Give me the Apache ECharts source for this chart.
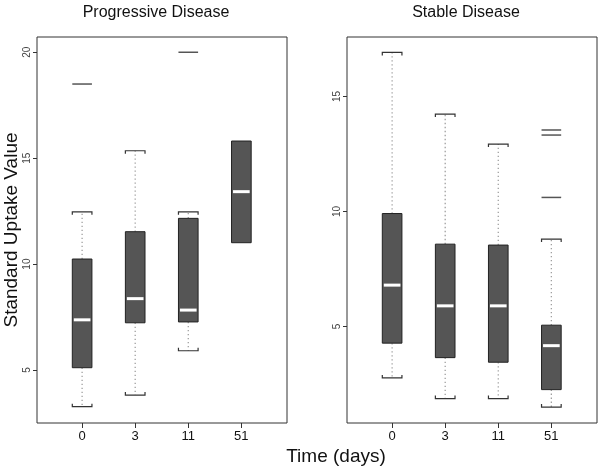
<!DOCTYPE html>
<html><head><meta charset="utf-8">
<script src="https://cdn.jsdelivr.net/npm/echarts@6/dist/echarts.min.js"></script>
<style>html,body{margin:0;padding:0;background:#fff}#c{width:600px;height:470px}</style>
</head><body><div id="c"></div>
<script>
const categories = ['0', '3', '11', '51'];
const yTicksProg = [5, 10, 15, 20];
const yTicksStable = [5, 10, 15];

const progLow  = [3.27, 3.82, 5.91, null];
const progQ1   = [5.11, 7.23, 7.27, 11.01];
const progMed  = [7.37, 8.37, 7.83, 13.42];
const progQ3   = [10.24, 11.53, 12.16, 15.81];
const progHigh = [12.47, 15.35, 12.47, null];
const progOutliers = [[0, 18.5], [2, 20.0]];

const stabLow  = [2.77, 1.87, 1.87, 1.50];
const stabQ1   = [4.28, 3.65, 3.45, 2.26];
const stabMed  = [6.80, 5.90, 5.90, 4.17];
const stabQ3   = [9.91, 8.58, 8.54, 5.06];
const stabHigh = [16.91, 14.23, 12.93, 8.80];
const stabOutliers = [[3, 13.54], [3, 13.32], [3, 10.61]];

const BOX_W = 0.37;
const FONT = '"Liberation Sans", Arial, sans-serif';

function boxRenderer(low, q1, med, q3, high) {
  return function (params, api) {
    const i = params.dataIndex;
    const x = i + 1;
    const half = api.size([BOX_W, 0])[0] / 2;
    const cx = api.coord([x, 0])[0];
    const yq1 = api.coord([x, q1[i]])[1];
    const yq3 = api.coord([x, q3[i]])[1];
    const ym = api.coord([x, med[i]])[1];
    const children = [];
    const dash = { stroke: '#a0a0a0', lineWidth: 1.3, lineDash: [1.3, 2.7], fill: null };
    const cap = { stroke: '#333', lineWidth: 1.2, fill: null };
    if (high[i] != null) {
      const yh = api.coord([x, high[i]])[1];
      children.push({ type: 'line', shape: { x1: cx, y1: yq3, x2: cx, y2: yh }, style: dash });
      children.push({ type: 'polyline', shape: { points: [[cx - half, yh + 3], [cx - half, yh], [cx + half, yh], [cx + half, yh + 3]] }, style: cap });
    }
    if (low[i] != null) {
      const yl = api.coord([x, low[i]])[1];
      children.push({ type: 'line', shape: { x1: cx, y1: yq1, x2: cx, y2: yl }, style: dash });
      children.push({ type: 'polyline', shape: { points: [[cx - half, yl - 3], [cx - half, yl], [cx + half, yl], [cx + half, yl - 3]] }, style: cap });
    }
    children.push({ type: 'rect', shape: { x: cx - half, y: yq3, width: 2 * half, height: yq1 - yq3 }, style: { fill: '#555555', stroke: '#222', lineWidth: 1 } });
    children.push({ type: 'line', shape: { x1: cx - half + 1.5, y1: ym, x2: cx + half - 1.5, y2: ym }, style: { stroke: '#ffffff', lineWidth: 3 } });
    return { type: 'group', children: children };
  };
}

function outlierRenderer(params, api) {
  const x = api.value(0) + 1;
  const half = api.size([BOX_W, 0])[0] / 2;
  const p = api.coord([x, api.value(1)]);
  return { type: 'line', shape: { x1: p[0] - half, y1: p[1], x2: p[0] + half, y2: p[1] }, style: { stroke: '#555', lineWidth: 1.5 } };
}

function xAxis(gi) {
  return {
    type: 'value', gridIndex: gi, min: 0.15, max: 4.86,
    axisLine: { show: false }, splitLine: { show: false },
    axisTick: { show: true, length: 5, customValues: [1, 2, 3, 4], lineStyle: { color: '#333' } },
    axisLabel: { customValues: [1, 2, 3, 4], margin: 7, fontSize: 13, color: '#111', fontFamily: FONT,
      formatter: v => categories[Math.round(v) - 1] }
  };
}
function yAxis(gi, min, max, ticks) {
  return {
    type: 'value', gridIndex: gi, min: min, max: max,
    axisLine: { show: false }, splitLine: { show: false },
    axisTick: { show: true, length: 4, customValues: ticks, lineStyle: { color: '#333' } },
    axisLabel: { customValues: ticks, rotate: 90, margin: 5, fontSize: 10, color: '#444', fontFamily: FONT }
  };
}

const chart = echarts.init(document.getElementById('c'), null, { renderer: 'canvas' });
chart.setOption({
  animation: false,
  backgroundColor: '#fff',
  grid: [
    { left: 37, top: 37, width: 250, height: 386, show: true, borderColor: '#333', borderWidth: 1, backgroundColor: 'transparent' },
    { left: 347, top: 37, width: 250, height: 386, show: true, borderColor: '#333', borderWidth: 1, backgroundColor: 'transparent' }
  ],
  xAxis: [xAxis(0), xAxis(1)],
  yAxis: [yAxis(0, 2.5, 20.72, yTicksProg), yAxis(1, 0.81, 17.58, yTicksStable)],
  series: [
    { type: 'custom', xAxisIndex: 0, yAxisIndex: 0, renderItem: boxRenderer(progLow, progQ1, progMed, progQ3, progHigh),
      data: categories.map((c, i) => [i + 1, progMed[i]]) },
    { type: 'custom', xAxisIndex: 0, yAxisIndex: 0, renderItem: outlierRenderer, data: progOutliers },
    { type: 'custom', xAxisIndex: 1, yAxisIndex: 1, renderItem: boxRenderer(stabLow, stabQ1, stabMed, stabQ3, stabHigh),
      data: categories.map((c, i) => [i + 1, stabMed[i]]) },
    { type: 'custom', xAxisIndex: 1, yAxisIndex: 1, renderItem: outlierRenderer, data: stabOutliers }
  ],
  graphic: [
    { type: 'text', x: 156, y: 13, style: { text: 'Progressive Disease', font: '16px ' + FONT, fill: '#111', align: 'center', verticalAlign: 'middle' } },
    { type: 'text', x: 466, y: 13, style: { text: 'Stable Disease', font: '16px ' + FONT, fill: '#111', align: 'center', verticalAlign: 'middle' } },
    { type: 'text', x: 12, y: 230, rotation: Math.PI / 2, style: { text: 'Standard Uptake Value', font: '19px ' + FONT, fill: '#111', align: 'center', verticalAlign: 'middle' } },
    { type: 'text', x: 336, y: 457, style: { text: 'Time (days)', font: '19px ' + FONT, fill: '#111', align: 'center', verticalAlign: 'middle' } }
  ]
});
</script>
</body></html>
